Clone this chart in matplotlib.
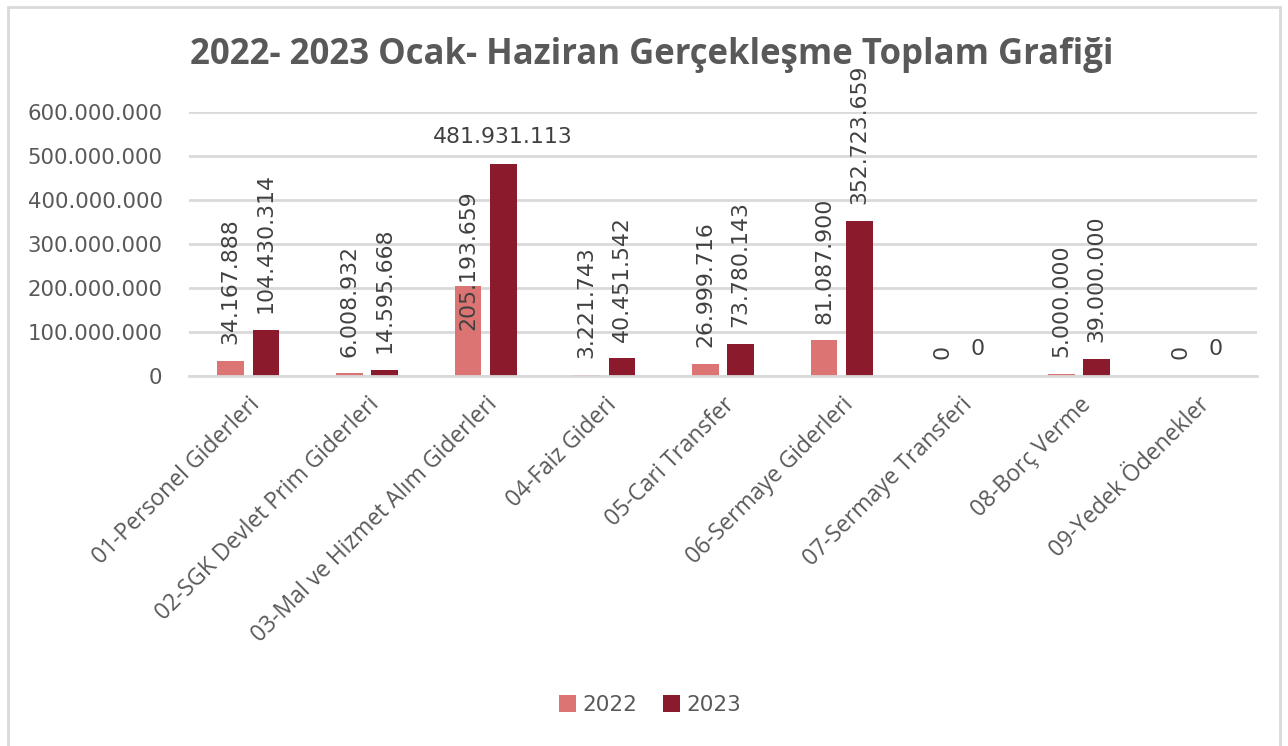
import numpy as np
import matplotlib.pyplot as plt
from matplotlib.patches import Rectangle
from matplotlib.ticker import FuncFormatter

categories = ['01-Personel Giderleri', '02-SGK Devlet Prim Giderleri',
              '03-Mal ve Hizmet Alım Giderleri', '04-Faiz Gideri', '05-Cari Transfer',
              '06-Sermaye Giderleri', '07-Sermaye Transferi', '08-Borç Verme',
              '09-Yedek Ödenekler']
values_2022 = [34167888, 6008932, 205193659, 3221743, 26999716, 81087900, 0, 5000000, 0]
values_2023 = [104430314, 14595668, 481931113, 40451542, 73780143, 352723659, 0, 39000000, 0]
series_names = ['2022', '2023']

c2022 = '#DC7474'
c2023 = '#8B1A2C'
grid_c = '#D9D9D9'
txt_c = '#595959'
lbl_c = '#404040'


def tr_fmt(v):
    return f'{int(v):,}'.replace(',', '.')


fig = plt.figure(figsize=(12.88, 7.46), dpi=100)
fig.patches.append(Rectangle((8 / 1288, -0.01), 1272 / 1288, 1.0, transform=fig.transFigure,
                             fill=False, edgecolor=grid_c, linewidth=2))

ax = fig.add_axes([189 / 1288, 1 - 376 / 746, 1068 / 1288, 264 / 746])
x = np.arange(len(categories))
w = 0.225
off = 0.148
b1 = ax.bar(x - off, values_2022, w, color=c2022, label=series_names[0])
b2 = ax.bar(x + off, values_2023, w, color=c2023, label=series_names[1])

ax.set_xlim(-0.5, len(categories) - 0.5)
ax.set_ylim(0, 600000000)
ax.set_yticks(np.arange(0, 600000001, 100000000))
ax.yaxis.set_major_formatter(FuncFormatter(lambda v, p: tr_fmt(v)))
ax.grid(axis='y', color=grid_c, linewidth=2)
ax.set_axisbelow(True)
for s in ['top', 'right', 'left']:
    ax.spines[s].set_visible(False)
ax.spines['bottom'].set_color(grid_c)
ax.spines['bottom'].set_linewidth(2)
ax.tick_params(axis='both', length=0)
ax.tick_params(axis='y', labelsize=15.3, labelcolor=txt_c, pad=19)
ax.set_xticks(x)
ax.set_xticklabels(categories, rotation=45, ha='right', rotation_mode='anchor',
                   fontsize=16.5, color=txt_c, family='Open Sans')
ax.tick_params(axis='x', pad=12)

# value labels (Excel-like: mostly vertical, a few horizontal)
for i, (v1, v2) in enumerate(zip(values_2022, values_2023)):
    dy1 = -32 if v1 == 205193659 else 12
    ax.annotate(tr_fmt(v1), (x[i] - off, v1), xytext=(0, dy1), textcoords='offset points',
                rotation=90, ha='center', va='bottom', fontsize=15.8, color=lbl_c)
    rot2 = 0 if (v2 == 0 or v2 == 481931113) else 90
    ax.annotate(tr_fmt(v2), (x[i] + off, v2), xytext=(0, 12), textcoords='offset points',
                rotation=rot2, ha='center', va='bottom', fontsize=15.8, color=lbl_c)

fig.text(190 / 1288, 1 - 55 / 746, '2022- 2023 Ocak- Haziran Gerçekleşme Toplam Grafiği',
         fontsize=25, fontweight='bold', color=txt_c, family='Open Sans', va='center', ha='left')

fig.legend(handles=[b1, b2], labels=series_names, loc='center', bbox_to_anchor=(650 / 1288, 1 - 705 / 746),
           ncol=2, frameon=False, fontsize=15.5, handlelength=0.8, handleheight=0.8,
           handletextpad=0.3, columnspacing=1.2, labelcolor=txt_c)

fig.savefig('out.png', dpi=100)
